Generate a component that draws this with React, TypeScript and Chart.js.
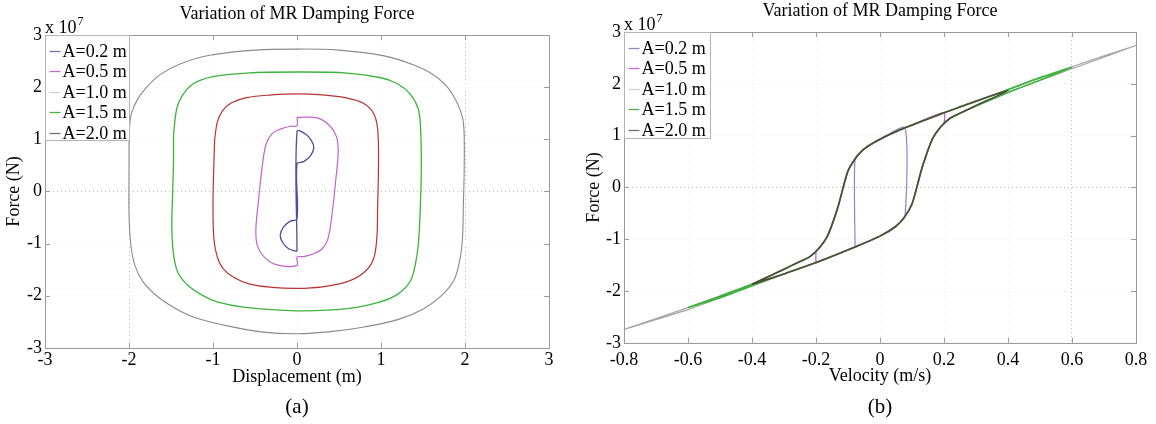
import React, { useEffect, useRef } from 'react';
import { Chart, registerables } from 'chart.js';

Chart.register(...registerables);

const FONT = 'Liberation Serif';

// ---------- shared text / ticks ----------
const chartTitle = 'Variation of MR Damping Force';
const amplitudeLabels = ['A=0.2 m', 'A=0.5 m', 'A=1.0 m', 'A=1.5 m', 'A=2.0 m'];
const forceTicks = [-3, -2, -1, 0, 1, 2, 3];
const forceTickLabels = ['-3', '-2', '-1', '0', '1', '2', '3'];
const forceExponent = '7';
const dispTicks = [-3, -2, -1, 0, 1, 2, 3];
const dispTickLabels = ['-3', '-2', '-1', '0', '1', '2', '3'];
const velTicks = [-0.8, -0.6, -0.4, -0.2, 0, 0.2, 0.4, 0.6, 0.8];
const velTickLabels = ['-0.8', '-0.6', '-0.4', '-0.2', '0', '0.2', '0.4', '0.6', '0.8'];

// ---------- (a) force (x10^7 N) vs displacement (m) ----------
const dispLoopA02: [number, number][] = [
  [0, -1.15], [0, 1.15], [0.1, 1.1], [0.17, 0.98], [0.2, 0.84], [0.16, 0.68], [0.08, 0.57], [0, 0.53],
  [0, -0.53], [-0.08, -0.57], [-0.16, -0.68], [-0.2, -0.84], [-0.17, -0.98], [-0.1, -1.1], [0, -1.15],
];
const dispLoopA05: [number, number][] = [
  [0, 1.42], [0.24, 1.41], [0.39, 1.26], [0.47, 1.05], [0.49, 0.75], [0.46, 0.2], [0.42, -0.4], [0.37, -0.9],
  [0.3, -1.1], [0.19, -1.2], [0.08, -1.25], [0, -1.26], [0, -1.42], [-0.24, -1.41], [-0.39, -1.26],
  [-0.47, -1.05], [-0.49, -0.75], [-0.46, -0.2], [-0.42, 0.4], [-0.37, 0.9], [-0.3, 1.1], [-0.19, 1.2],
  [-0.08, 1.25], [0, 1.26], [0, 1.42],
];
const dispLoopA10: [number, number][] = [
  [-0.98, 1.0], [-0.95, 1.32], [-0.89, 1.54], [-0.78, 1.7], [-0.6, 1.8], [-0.3, 1.85], [0, 1.87], [0.3, 1.85],
  [0.6, 1.79], [0.79, 1.69], [0.91, 1.5], [0.96, 1.2], [0.97, 0.5], [0.96, -0.3], [0.95, -0.9], [0.91, -1.3],
  [0.8, -1.55], [0.6, -1.73], [0.3, -1.83], [0, -1.86], [-0.3, -1.84], [-0.56, -1.78], [-0.75, -1.65],
  [-0.88, -1.48], [-0.95, -1.25], [-0.99, -0.9], [-1.0, -0.2], [-0.99, 0.5], [-0.98, 1.0],
];
const dispLoopA15: [number, number][] = [
  [-1.47, 1.1], [-1.43, 1.6], [-1.36, 1.85], [-1.24, 2.06], [-1.0, 2.2], [-0.6, 2.27], [0, 2.29], [0.6, 2.27],
  [1.0, 2.18], [1.19, 2.07], [1.34, 1.88], [1.44, 1.6], [1.47, 1.25], [1.48, 0.5], [1.47, -0.2], [1.45, -0.9],
  [1.42, -1.3], [1.35, -1.72], [1.2, -1.97], [0.99, -2.12], [0.6, -2.25], [0, -2.29], [-0.64, -2.22],
  [-0.95, -2.12], [-1.12, -2.0], [-1.3, -1.8], [-1.42, -1.55], [-1.47, -1.2], [-1.49, -0.7], [-1.48, 0],
  [-1.47, 0.6], [-1.47, 1.1],
];
const dispLoopA20: [number, number][] = [
  [-2.0, 1.15], [-1.97, 1.5], [-1.9, 1.76], [-1.8, 1.98], [-1.63, 2.24], [-1.4, 2.44], [-1.04, 2.61],
  [-0.5, 2.71], [0, 2.73], [0.5, 2.71], [1.04, 2.6], [1.4, 2.42], [1.6, 2.26], [1.78, 2.02], [1.9, 1.72],
  [1.97, 1.42], [1.99, 1.1], [1.99, 0.4], [1.98, -0.3], [1.97, -0.9], [1.94, -1.3], [1.87, -1.7], [1.72, -2.0],
  [1.51, -2.25], [1.2, -2.46], [0.8, -2.6], [0.4, -2.69], [0, -2.73], [-0.4, -2.7], [-0.83, -2.58],
  [-1.2, -2.43], [-1.43, -2.26], [-1.65, -2.03], [-1.83, -1.74], [-1.93, -1.42], [-1.98, -1.0], [-2.0, -0.4],
  [-2.0, 0.4], [-2.0, 1.15],
];

// ---------- (b) force (x10^7 N) vs velocity (m/s) ----------
const velLoopA02: [number, number][] = [
  [-0.078, -1.15], [-0.078, 0.55], [-0.05, 0.74], [0, 0.93], [0.078, 1.15], [0.078, -0.56], [0.05, -0.75],
  [0, -0.94], [-0.078, -1.15],
];
const velLoopA05: [number, number][] = [
  [-0.2, -1.46], [-0.2, -1.25], [-0.19, -1.17], [-0.165, -0.95], [-0.147, -0.67], [-0.13, -0.35],
  [-0.115, 0], [-0.1, 0.32], [-0.078, 0.55], [-0.05, 0.74], [0, 0.93], [0.078, 1.15], [0.2, 1.45],
  [0.2, 1.24], [0.19, 1.17], [0.165, 0.95], [0.147, 0.67], [0.13, 0.35], [0.115, 0], [0.1, -0.32],
  [0.078, -0.56], [0.05, -0.75], [0, -0.94], [-0.078, -1.15], [-0.2, -1.46],
];
const velLoopA10: [number, number][] = [
  [-0.4, -1.87], [-0.3, -1.58], [-0.26, -1.46], [-0.22, -1.34], [-0.19, -1.17], [-0.165, -0.95],
  [-0.147, -0.67], [-0.13, -0.35], [-0.115, 0], [-0.1, 0.32], [-0.078, 0.55], [-0.05, 0.74], [0, 0.93],
  [0.078, 1.15], [0.2, 1.44], [0.3, 1.67], [0.4, 1.87], [0.3, 1.58], [0.26, 1.46], [0.22, 1.34],
  [0.19, 1.17], [0.165, 0.95], [0.147, 0.67], [0.13, 0.35], [0.115, 0], [0.1, -0.32], [0.078, -0.56],
  [0.05, -0.75], [0, -0.94], [-0.078, -1.15], [-0.2, -1.45], [-0.3, -1.67], [-0.4, -1.87],
];
const velLoopA15: [number, number][] = [
  [-0.6, -2.32], [-0.5, -2.1], [-0.4, -1.87], [-0.3, -1.58], [-0.26, -1.46], [-0.22, -1.34], [-0.19, -1.17],
  [-0.165, -0.95], [-0.147, -0.67], [-0.13, -0.35], [-0.115, 0], [-0.1, 0.32], [-0.078, 0.55], [-0.05, 0.74],
  [0, 0.93], [0.078, 1.15], [0.2, 1.44], [0.3, 1.66], [0.4, 1.89], [0.5, 2.12], [0.6, 2.32], [0.5, 2.07],
  [0.4, 1.83], [0.3, 1.57], [0.26, 1.46], [0.22, 1.34], [0.19, 1.17], [0.165, 0.95], [0.147, 0.67],
  [0.13, 0.35], [0.115, 0], [0.1, -0.32], [0.078, -0.56], [0.05, -0.75], [0, -0.94], [-0.078, -1.15],
  [-0.2, -1.45], [-0.3, -1.67], [-0.4, -1.9], [-0.5, -2.13], [-0.6, -2.32],
];
const velLoopA20: [number, number][] = [
  [-0.8, -2.74], [-0.6, -2.32], [-0.4, -1.86], [-0.3, -1.58], [-0.26, -1.46], [-0.22, -1.34], [-0.19, -1.17],
  [-0.165, -0.95], [-0.147, -0.67], [-0.13, -0.35], [-0.115, 0], [-0.1, 0.32], [-0.078, 0.55], [-0.05, 0.74],
  [0, 0.93], [0.078, 1.15], [0.2, 1.44], [0.3, 1.66], [0.4, 1.88], [0.6, 2.33], [0.8, 2.74], [0.6, 2.29],
  [0.4, 1.84], [0.3, 1.57], [0.26, 1.46], [0.22, 1.34], [0.19, 1.17], [0.165, 0.95], [0.147, 0.67],
  [0.13, 0.35], [0.115, 0], [0.1, -0.32], [0.078, -0.56], [0.05, -0.75], [0, -0.94], [-0.078, -1.15],
  [-0.2, -1.45], [-0.3, -1.67], [-0.4, -1.9], [-0.6, -2.36], [-0.8, -2.74],
];

// ---------- colours ----------
const dispLineColors = ['#4e4e9c', '#c262cf', '#b83232', '#3cb43c', '#8a8a8a'];
const dispLegendColors = ['#7272b4', '#c26ad0', '#d0d0d0', '#4cb04c', '#747474'];
const velLineColors = ['#8686cc', '#cc5ecc', '#4e4c3c', '#3cb43c', '#a4a4a4'];
const velLegendColors = ['#8a8acc', '#cc6acc', '#dccaca', '#58ac58', '#6e6e6e'];

type PlotCfg = {
  loops: [number, number][][];
  lineColors: string[];
  legendColors: string[];
  lineWidths: number[];
  drawOrder: number[];
  xMin: number;
  xMax: number;
  xTicks: number[];
  xTickLabels: string[];
  xTitle: string;
  subtitle: string;
  darkX: number[];
  tension: number;
  titlePadTop: number;
  titlePadBottom: number;
  yWidth: number;
  yTitlePad: number;
  xHeight: number;
  xTickPad: number;
  xTitlePadBottom: number;
  padRight: number;
  legendW: number;
  legendH: number;
};

function makeFramePlugin(cfg: PlotCfg) {
  return {
    id: 'matlabFrame',
    afterDraw(chart: any) {
      const { ctx, chartArea: a, scales } = chart;
      const xs = scales.x;
      const ys = scales.y;
      ctx.save();
      ctx.strokeStyle = '#9a9a9a';
      ctx.lineWidth = 1;
      ctx.setLineDash([]);
      ctx.beginPath();
      for (const t of xs.ticks) {
        const px = Math.round(xs.getPixelForValue(t.value)) + 0.5;
        ctx.moveTo(px, a.bottom);
        ctx.lineTo(px, a.bottom - 5);
        ctx.moveTo(px, a.top);
        ctx.lineTo(px, a.top + 5);
      }
      for (const t of ys.ticks) {
        const py = Math.round(ys.getPixelForValue(t.value)) + 0.5;
        ctx.moveTo(a.left, py);
        ctx.lineTo(a.left + 5, py);
        ctx.moveTo(a.right, py);
        ctx.lineTo(a.right - 5, py);
      }
      ctx.stroke();
      ctx.strokeRect(Math.round(a.left) + 0.5, Math.round(a.top) + 0.5,
        Math.round(a.right - a.left), Math.round(a.bottom - a.top));

      // legend box
      const lx = Math.round(a.left) + 0.5;
      const ly = Math.round(a.top) + 0.5;
      ctx.fillStyle = '#ffffff';
      ctx.fillRect(lx, ly, cfg.legendW, cfg.legendH);
      ctx.strokeStyle = '#b4b4b4';
      ctx.strokeRect(lx, ly, cfg.legendW, cfg.legendH);
      ctx.font = `18px "${FONT}"`;
      ctx.textBaseline = 'middle';
      ctx.textAlign = 'left';
      amplitudeLabels.forEach((lab, i) => {
        const cy = Math.round(ly + 15 + 20.5 * i) + 0.5;
        ctx.strokeStyle = cfg.legendColors[i];
        ctx.lineWidth = 1.3;
        ctx.beginPath();
        ctx.moveTo(lx + 4, cy);
        ctx.lineTo(lx + 15, cy);
        ctx.stroke();
        ctx.fillStyle = '#000';
        ctx.fillText(lab, lx + 17, cy + 1);
      });

      // exponent label
      ctx.fillStyle = '#000';
      ctx.textBaseline = 'alphabetic';
      ctx.font = `18px "${FONT}"`;
      ctx.fillText('x 10', a.left, a.top - 2);
      const w = ctx.measureText('x 10').width;
      ctx.font = `12px "${FONT}"`;
      ctx.fillText(forceExponent, a.left + w + 1, a.top - 10);
      ctx.restore();
    },
  };
}

function buildChart(canvas: HTMLCanvasElement, cfg: PlotCfg) {
  const font = { family: FONT, size: 18, weight: 'normal' as const };
  const near = (v: number, list: number[]) => list.some((d) => Math.abs(d - v) < 1e-6);
  return new Chart(canvas, {
    type: 'scatter',
    data: {
      datasets: cfg.loops.map((loop, i) => ({
        label: amplitudeLabels[i],
        data: loop.map(([x, y]) => ({ x, y })),
        borderColor: cfg.lineColors[i],
        backgroundColor: cfg.lineColors[i],
        borderWidth: cfg.lineWidths[i],
        pointRadius: 0,
        showLine: true,
        fill: false,
        tension: cfg.tension,
        order: cfg.drawOrder[i],
      })),
    },
    options: {
      animation: false,
      responsive: false,
      maintainAspectRatio: false,
      devicePixelRatio: 1,
      events: [],
      layout: { padding: { left: 0, right: cfg.padRight, top: 0, bottom: 0 } },
      plugins: {
        legend: { display: false },
        tooltip: { enabled: false },
        title: {
          display: true,
          text: chartTitle,
          fullSize: false,
          color: '#000',
          font,
          padding: { top: cfg.titlePadTop, bottom: cfg.titlePadBottom },
        },
        subtitle: {
          display: true,
          text: cfg.subtitle,
          position: 'bottom',
          fullSize: false,
          color: '#000',
          font: { family: FONT, size: 21, weight: 'normal' },
          padding: { top: 0, bottom: 4 },
        },
      },
      scales: {
        x: {
          type: 'linear',
          min: cfg.xMin,
          max: cfg.xMax,
          afterBuildTicks: (s: any) => {
            s.ticks = cfg.xTicks.map((v) => ({ value: v }));
          },
          afterFit: (s: any) => {
            s.height = cfg.xHeight;
          },
          ticks: {
            autoSkip: false,
            maxRotation: 0,
            color: '#000',
            font,
            padding: cfg.xTickPad,
            callback: (_v: any, i: number) => cfg.xTickLabels[i],
          },
          grid: {
            drawTicks: false,
            lineWidth: 1,
            color: (c: any) => (c.tick && near(c.tick.value, cfg.darkX) ? '#bcbcbc' : '#eeeeee'),
          },
          border: { display: false, dash: [1, 3] },
          title: {
            display: true,
            text: cfg.xTitle,
            color: '#000',
            font,
            padding: { top: 0, bottom: cfg.xTitlePadBottom },
          },
        },
        y: {
          type: 'linear',
          min: -3,
          max: 3,
          afterBuildTicks: (s: any) => {
            s.ticks = forceTicks.map((v) => ({ value: v }));
          },
          afterFit: (s: any) => {
            s.width = cfg.yWidth;
          },
          ticks: {
            autoSkip: false,
            color: '#000',
            font,
            padding: 3,
            callback: (_v: any, i: number) => forceTickLabels[i],
          },
          grid: {
            drawTicks: false,
            lineWidth: 1,
            color: (c: any) => (c.tick && Math.abs(c.tick.value) < 1e-6 ? '#bcbcbc' : '#eeeeee'),
          },
          border: { display: false, dash: [1, 3] },
          title: {
            display: true,
            text: 'Force (N)',
            color: '#000',
            font,
            padding: { top: cfg.yTitlePad, bottom: 0 },
          },
        },
      },
    } as any,
    plugins: [makeFramePlugin(cfg)],
  });
}

const plotA: PlotCfg = {
  loops: [dispLoopA02, dispLoopA05, dispLoopA10, dispLoopA15, dispLoopA20],
  lineColors: dispLineColors,
  legendColors: dispLegendColors,
  lineWidths: [1.3, 1.2, 1.2, 1.3, 1.1],
  drawOrder: [0, 1, 2, 3, 4],
  xMin: -3,
  xMax: 3,
  xTicks: dispTicks,
  xTickLabels: dispTickLabels,
  xTitle: 'Displacement (m)',
  subtitle: '(a)',
  darkX: [-2, 2],
  tension: 0.35,
  titlePadTop: 3,
  titlePadBottom: 10.4,
  yWidth: 45,
  yTitlePad: 3.2,
  xHeight: 47,
  xTickPad: 2,
  xTitlePadBottom: 7.2,
  padRight: 29,
  legendW: 84,
  legendH: 105,
};

const plotB: PlotCfg = {
  loops: [velLoopA02, velLoopA05, velLoopA10, velLoopA15, velLoopA20],
  lineColors: velLineColors,
  legendColors: velLegendColors,
  lineWidths: [1.2, 1.3, 1.6, 1.6, 1.2],
  drawOrder: [4, 3, 0, 1, 2],
  xMin: -0.8,
  xMax: 0.8,
  xTicks: velTicks,
  xTickLabels: velTickLabels,
  xTitle: 'Velocity (m/s)',
  subtitle: '(b)',
  darkX: [0.6],
  tension: 0.2,
  titlePadTop: 0,
  titlePadBottom: 10.4,
  yWidth: 46,
  yTitlePad: 5,
  xHeight: 52,
  xTickPad: 7,
  xTitlePadBottom: 8.2,
  padRight: 20,
  legendW: 86,
  legendH: 106,
};

export default function App() {
  const refA = useRef<HTMLCanvasElement | null>(null);
  const refB = useRef<HTMLCanvasElement | null>(null);

  useEffect(() => {
    const charts: Chart[] = [];
    if (refA.current) charts.push(buildChart(refA.current, plotA));
    if (refB.current) charts.push(buildChart(refB.current, plotB));
    return () => charts.forEach((c) => c.destroy());
  }, []);

  return (
    <div style={{ position: 'fixed', left: 0, top: 0, width: 1156, height: 424, background: '#fff' }}>
      <canvas ref={refA} width={578} height={424}
        style={{ position: 'absolute', left: 0, top: 0, width: 578, height: 424 }} />
      <canvas ref={refB} width={578} height={424}
        style={{ position: 'absolute', left: 578, top: 0, width: 578, height: 424 }} />
    </div>
  );
}
